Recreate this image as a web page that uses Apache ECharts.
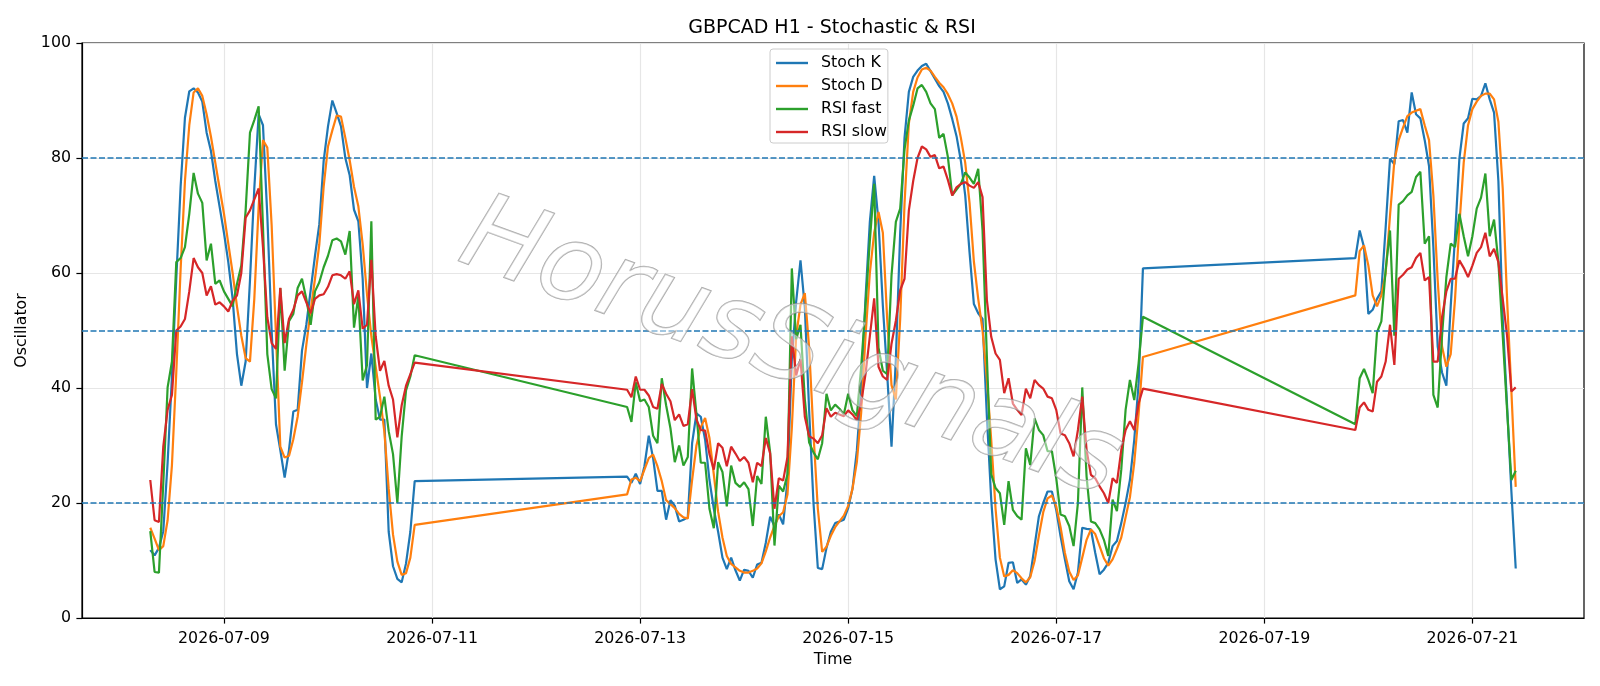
<!DOCTYPE html>
<html>
<head>
<meta charset="utf-8">
<title>GBPCAD H1 - Stochastic & RSI</title>
<script src="https://cdn.jsdelivr.net/npm/echarts@6/dist/echarts.min.js"></script>
<style>
  html, body { margin: 0; padding: 0; background: #fff; }
  #chart { width: 1600px; height: 686px; }
</style>
</head>
<body>
<div id="chart"></div>
<script>
// hourly bars, the market is closed at the weekends (lines just bridge the gaps)
var segmentStarts = ['2026-07-08T07:00:00Z', '2026-07-12T21:00:00Z', '2026-07-19T21:00:00Z'];
var segmentLengths = [62, 120, 38];

var tickDates = ['2026-07-09', '2026-07-11', '2026-07-13', '2026-07-15', '2026-07-17', '2026-07-19', '2026-07-21'];
var yTicks = [0, 20, 40, 60, 80, 100];
var levels = [20, 50, 80];

var stochK = [
  // 07-08 07:00 .. 07-10 20:00
  11.8, 10.9, 12.2, 15.1, 27, 42, 59, 75, 87, 91.6,
  92.1, 91.4, 89.8, 84.4, 81.2, 76, 71.5,
  67, 61.9, 55.5, 45.9, 40.4, 44.6, 58.7, 74.7, 87.6, 85.7,
  70, 50, 33.7, 29.2, 24.4, 29.2, 35.9, 36.2, 46.5, 51,
  57, 63, 68.5, 79.5, 85.5, 90, 87.8, 85.5, 80, 77,
  71, 69, 59, 40, 46, 38, 34.5, 34.5, 15, 9,
  6.8, 6.2, 9.5, 15, 23.8,
  // 07-12 21:00 .. 07-17 20:00
  24.6, 23.5, 25.1, 23.3, 26.4, 31.7, 27.8, 22.1, 22.1, 17.1,
  20.5, 19.5, 16.8, 17.1, 17.5, 30.4, 35.6, 35, 31, 24,
  19, 15, 10.5, 8.5, 10.5, 8.3, 6.5, 8.4, 8.2, 7,
  9.3, 9.6, 13.1, 17.6, 16, 18, 16.3, 24, 45, 55,
  62.2, 54, 36, 20, 8.7, 8.5, 12.2, 15, 16.5, 16.8,
  17.1, 19.1, 22.5, 29.1, 39.7, 55.6, 68.9, 76.9, 68.9, 54.3,
  42.4, 29.8, 45, 67, 83.5, 91.5, 94.1, 95.2, 96, 96.4,
  95.1, 93.8, 92.5, 91.5, 89.5, 86.8, 83.8, 79.5, 73.5, 63.6,
  54.6, 53, 52, 35, 20.6, 10.2, 5, 5.5, 9.6, 9.7,
  6.1, 6.7, 5.8, 7.3, 12.5, 17.7, 20, 22, 22, 18.8,
  14.2, 10.2, 6.4, 5, 7.9, 15.7, 15.5, 15.4, 11.3, 7.6,
  8.4, 9.6, 12.5, 13.4, 16.5, 20, 24, 31, 40.8, 60.8,
  // 07-19 21:00 .. 07-21 10:00
  62.6, 67.4, 64.5, 52.9, 53.6, 55.5, 56.8, 68, 79.9, 78.9,
  86.4, 86.6, 84.4, 91.4, 87.6, 86.9, 83.1, 78.6, 64.5, 47.2,
  42.7, 40.4, 54.2, 66.4, 79.9, 86, 86.9, 90.3, 90.2, 90.8,
  93, 90.2, 87.9, 76, 52, 37, 22, 8.6
];

var stochD = [
  15.7, 13.8, 11.8, 12.5, 17, 26.6, 42.7, 60.6, 76, 85.7,
  91.4, 92.1, 90.8, 87.6, 83.7, 79.2, 74.7,
  70.3, 65.1, 60, 54.2, 49.1, 45.2, 44.6, 55.5, 71.5, 83.1,
  81.8, 68.3, 49.1, 29.8, 27.9, 28.2, 31.1, 35, 41, 47.5,
  53.5, 59, 65, 75, 82, 84.8, 87.4, 87.2, 83.5, 79.6,
  75, 71.6, 65, 56.3, 49, 43.7, 38.4, 32.4, 22.5, 14.5,
  9.8, 7.5, 7.8, 10.5, 16.2,

  21.5, 24.1, 24.4, 23.8, 25.8, 27.8, 28.4, 26.4, 23.8, 20.5,
  19.8, 19.1, 18.1, 17.5, 17.3, 24, 30, 33.2, 34.8, 31.3,
  25, 18.5, 14, 10.8, 9.4, 8.8, 8.2, 7.9, 7.9, 8.2,
  8.6, 9.5, 11.6, 14, 16, 17.7, 18.4, 21.5, 33, 49,
  54.5, 56.5, 47, 32, 19, 11.5, 12.4, 14.3, 15.8, 16.8,
  17.8, 19.5, 22.5, 27.1, 35.7, 49, 60, 67, 70.6, 67,
  52, 40.5, 38, 52, 72, 86, 91.5, 94, 95.4, 95.7,
  95.2, 94.1, 93.1, 92.3, 91.1, 89.5, 87.2, 83.5, 79.2, 72.2,
  62, 55.5, 50, 41.5, 31, 19, 10.5, 7.2, 7.5, 8.3,
  7.8, 6.9, 6.2, 7.1, 9.9, 14.3, 18.4, 20.8, 21.3, 19.4,
  15.8, 11.3, 8.1, 6.6, 7.4, 10.5, 13.6, 15.4, 14.6, 12.5,
  10.4, 9.1, 10.2, 12, 14, 17.5, 21, 27, 35.5, 45.4,

  56.1, 63.8, 64.8, 61.3, 56.1, 54.2, 56.1, 60, 70, 79.5,
  83.1, 85.3, 87.3, 87.9, 88.2, 88.5, 85.7, 83.1, 73.5, 58.7,
  47.2, 43.7, 45.9, 55.5, 68.3, 79.2, 85.7, 88.5, 89.8, 90.8,
  91.2, 91.2, 90.2, 86.3, 74.7, 55.5, 39.4, 22.8
];

var rsiFast = [
  15.1, 8, 7.9, 23.4, 40.1, 44.6, 61.9, 62.6, 64.5, 70.3,
  77.4, 73.8, 72.2, 62.2, 65.1, 58.1, 58.7,
  56.8, 55.5, 54.2, 58.1, 61.3, 70.9, 84.4, 86.6, 89, 68,
  45.9, 39.8, 38.2, 57.4, 43, 51.6, 52.9, 57.4, 59, 55.5,
  51, 56.8, 58.4, 61, 63, 65.7, 66, 65.5, 63.2, 67.3,
  50.5, 56, 41.3, 44, 69, 34.5, 35, 38.5, 32.5, 28.5,
  20, 31.6, 39.6, 42, 45.7,

  36.7, 34.1, 41, 37.7, 38, 36.7, 31.7, 30.4, 41.7, 37,
  33, 27.1, 30, 26.5, 28, 43.4, 35.4, 27, 27, 19,
  15.6, 27.1, 25.4, 19.4, 26.5, 23.5, 22.8, 23.6, 22.4, 16,
  24.7, 23.3, 35, 28.8, 12.6, 23, 22, 25, 60.8, 48.5,
  51, 38, 30.5, 28.8, 27.6, 30.4, 39, 36.1, 37.1, 36.4,
  35.4, 39, 36.1, 35.1, 43.7, 54.3, 65.6, 75.5, 47, 43,
  42.4, 59.6, 68.9, 71.2, 81.5, 86.5, 89.1, 92.1, 92.7, 91.5,
  89.5, 88.5, 83.5, 84.2, 80.2, 73.5, 74.5, 75.5, 77.5, 76.6,
  75.5, 78.1, 67.4, 45.4, 25, 22.6, 21.7, 16.2, 23.8, 18.8,
  17.7, 17.1, 29.5, 26.6, 34.7, 32.7, 31.8, 29, 29, 24.3,
  18, 17.7, 16, 12.5, 20, 40.1, 24.6, 16.8, 16.5, 15.4,
  13.6, 10.8, 20.6, 18.6, 25.8, 36.2, 41.4, 37.9, 44.3, 52.4,

  33.7, 41.7, 43.3, 41.4, 39.1, 49.7, 51.6, 60.6, 67.4, 49.1,
  71.9, 72.5, 73.5, 74.1, 76.7, 77.6, 65.1, 66.4, 38.8, 36.6,
  49.1, 59.3, 65.1, 64.5, 70.3, 66.4, 62.9, 66.4, 71.2, 73.1,
  77.3, 66.4, 69.3, 61.9, 49.1, 36.2, 24, 25.6
];

var rsiSlow = [
  24, 17, 16.7, 29.8, 36.2, 38.8, 50, 50.7, 52, 56.8,
  62.6, 61, 60, 56.1, 57.7, 54.5, 54.9,
  54.2, 53.3, 55.2, 56.1, 60, 69.6, 70.9, 72.8, 74.7, 64.5,
  52.3, 47.8, 46.8, 57.4, 47.8, 52, 53.6, 56.1, 56.8, 54.9,
  53, 55.5, 56.1, 56.3, 57.6, 59.6, 59.8, 59.6, 59, 60.3,
  54.6, 57, 50.3, 51, 62.3, 49, 43, 44.7, 40.4, 38,
  31.4, 37, 40.4, 42.4, 44.4,

  39.7, 38.4, 42, 39.7, 39.7, 38.7, 36.7, 36.4, 40.7, 39,
  37.7, 34.4, 35.4, 33.4, 33.7, 39.8, 34.5, 32.7, 32.6, 28.5,
  25.8, 30.4, 29.6, 26.4, 29.8, 28.6, 27.3, 28, 27, 23.6,
  27, 26.4, 31.3, 28.6, 19, 24.3, 23.9, 28, 49, 42.2,
  45, 35, 31.6, 31.2, 30.4, 31.8, 36.5, 35, 35.7, 35.4,
  35.1, 36.1, 35.4, 34.4, 37.4, 42.4, 49, 55.6, 43.7, 42,
  41.4, 47.7, 51.7, 57, 59, 70.9, 76, 80, 82, 81.5,
  80.2, 80.5, 78.2, 78.5, 76.2, 73.5, 74.9, 75.5, 75.8, 75.2,
  74.8, 75.8, 73.2, 55.3, 48.9, 46, 44.9, 39.1, 41.7, 37.3,
  36.2, 35.3, 39.9, 38.2, 41.4, 40.5, 39.9, 38.5, 38.2, 36.2,
  32.1, 31.8, 30.4, 28.1, 32.7, 38.5, 29.2, 24.9, 24.3, 22.9,
  21.7, 20, 24.3, 23.5, 29.2, 32.7, 34.2, 32.7, 37.3, 39.9,

  32.7, 36.6, 37.5, 36.2, 35.9, 41.1, 42, 44.6, 51, 44,
  59, 59.7, 60.6, 61, 62.6, 63.5, 58.7, 59.3, 44.6, 44.6,
  52.3, 56.8, 59, 59, 62.2, 60.9, 59.3, 61.3, 63.5, 64.5,
  67, 62.9, 64.2, 61.9, 55.5, 49.1, 39.4, 40.1
];

// hourly time stamps for every segment
var times = [];
segmentStarts.forEach(function (s, i) {
  var t0 = Date.parse(s);
  for (var j = 0; j < segmentLengths[i]; j++) {
    times.push(t0 + j * 3600000);
  }
});

function toPairs(values) {
  return values.map(function (v, i) { return [times[i], v]; });
}

var span = times[times.length - 1] - times[0];
var xMin = times[0] - span * 0.05; // matplotlib default margin
var xMax = times[times.length - 1] + span * 0.05;
var tickValues = tickDates.map(function (d) { return Date.parse(d + 'T00:00:00Z'); });

var font = 'DejaVu Sans';
var myChart = echarts.init(document.getElementById('chart'));

function lineSeries(name, color, values) {
  return {
    name: name,
    type: 'line',
    data: toPairs(values),
    showSymbol: false,
    symbol: 'none',
    lineStyle: { color: color, width: 2.2 },
    itemStyle: { color: color },
    z: 3
  };
}

var series = [
  lineSeries('Stoch K', '#1f77b4', stochK),
  lineSeries('Stoch D', '#ff7f0e', stochD),
  lineSeries('RSI fast', '#2ca02c', rsiFast),
  lineSeries('RSI slow', '#d62728', rsiSlow)
];

// dashed reference levels
series[0].markLine = {
  silent: true,
  symbol: 'none',
  label: { show: false },
  lineStyle: { color: '#1f77b4', width: 1.5, type: [6, 2.5] },
  data: levels.map(function (v) { return { yAxis: v }; })
};

var option = {
  animation: false,
  backgroundColor: '#fff',
  textStyle: { fontFamily: font },
  title: {
    text: 'GBPCAD H1 - Stochastic & RSI',
    left: 832,
    top: 19,
    textAlign: 'center',
    padding: 0,
    textStyle: { fontFamily: font, fontSize: 19, fontWeight: 'normal', color: '#000' }
  },
  legend: {
    orient: 'vertical',
    left: 770,
    top: 49,
    padding: [6, 1, 3, 6],
    itemWidth: 32,
    itemHeight: 2.4,
    itemGap: 7,
    icon: 'rect',
    backgroundColor: 'rgba(255,255,255,0.8)',
    borderColor: '#cccccc',
    borderWidth: 1,
    borderRadius: 3,
    textStyle: { fontFamily: font, fontSize: 15.8, color: '#000', lineHeight: 14, padding: [0, 0, 0, 8] },
    data: ['Stoch K', 'Stoch D', 'RSI fast', 'RSI slow']
  },
  grid: {
    left: 82,
    right: 16,
    top: 43,
    bottom: 68,
    show: true,
    borderColor: '#000',
    borderWidth: 1.2,
    containLabel: false
  },
  xAxis: {
    type: 'value',
    min: xMin,
    max: xMax,
    name: 'Time',
    nameLocation: 'middle',
    nameGap: 31,
    nameTextStyle: { fontFamily: font, fontSize: 15.8, color: '#000' },
    axisLine: { show: true, lineStyle: { color: '#000', width: 1.2 } },
    axisTick: { show: true, length: 5.6, lineStyle: { color: '#000', width: 1.2 }, customValues: tickValues },
    axisLabel: {
      margin: 13,
      fontFamily: font,
      fontSize: 15.8,
      color: '#000',
      customValues: tickValues,
      formatter: function (v) { return new Date(v).toISOString().slice(0, 10); }
    },
    splitLine: { show: true, lineStyle: { color: '#e6e6e6', width: 1.2 } }
  },
  yAxis: {
    type: 'value',
    min: yTicks[0],
    max: yTicks[yTicks.length - 1],
    interval: 20,
    name: 'Oscillator',
    nameLocation: 'middle',
    nameGap: 46,
    nameRotate: 90,
    nameTextStyle: { fontFamily: font, fontSize: 15.8, color: '#000' },
    axisLine: { show: true, lineStyle: { color: '#000', width: 1.2 } },
    axisTick: { show: true, length: 5.6, lineStyle: { color: '#000', width: 1.2 } },
    axisLabel: { margin: 11, fontFamily: font, fontSize: 15.8, color: '#000' },
    splitLine: { show: true, lineStyle: { color: '#e6e6e6', width: 1.2 } }
  },
  graphic: [
    {
      // watermark
      type: 'text',
      x: 790,
      y: 352,
      rotation: -20 * Math.PI / 180,
      z: 100,
      silent: true,
      style: {
        text: 'HorusSignals',
        x: 0,
        y: 0,
        align: 'center',
        verticalAlign: 'middle',
        fontFamily: font,
        fontStyle: 'italic',
        fontSize: 106,
        fill: 'rgba(255,255,255,0.45)',
        stroke: 'rgba(140,140,140,0.75)',
        lineWidth: 1.4,
        shadowColor: 'rgba(0,0,0,0.3)',
        shadowBlur: 4,
        shadowOffsetX: 2,
        shadowOffsetY: 3
      }
    }
  ],
  series: series
};

option && myChart.setOption(option);
</script>
</body>
</html>
